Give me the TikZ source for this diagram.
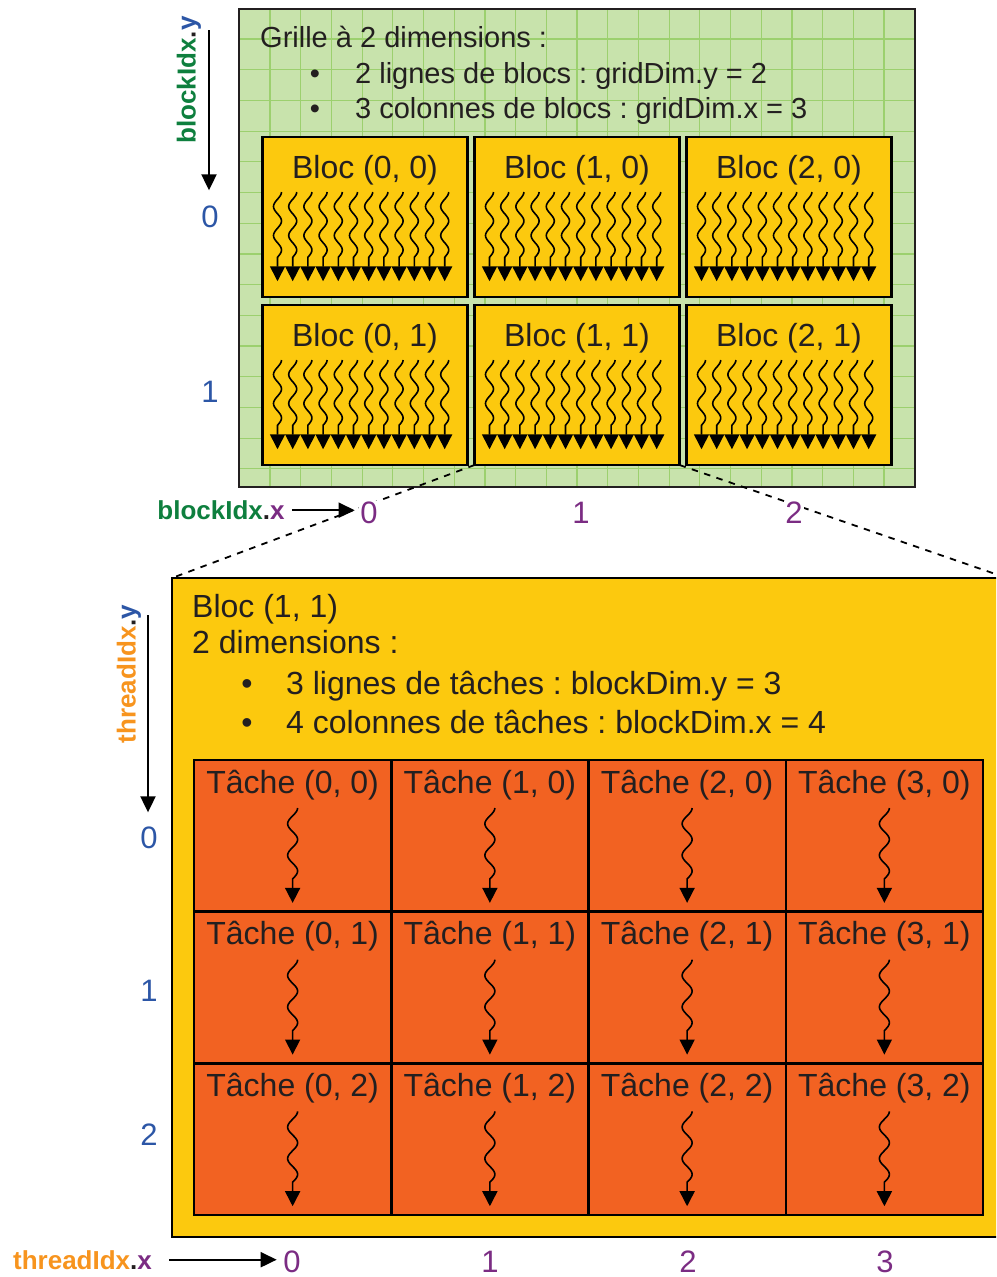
\documentclass[tikz,border=0pt]{standalone}
\usepackage{fontspec}
\setmainfont{Liberation Sans}
\usetikzlibrary{arrows.meta}
\frenchspacing

\definecolor{vertfond}{HTML}{C8E3AC}
\definecolor{vertligne}{HTML}{9CD06E}
\definecolor{jaune}{HTML}{FCC90E}
\definecolor{orangetache}{HTML}{F26222}
\definecolor{encre}{HTML}{231F20}
\definecolor{vertidx}{HTML}{0E7F3E}
\definecolor{bleuidx}{HTML}{2C56A6}
\definecolor{violetidx}{HTML}{7B2C83}
\definecolor{orangeidx}{HTML}{F7941E}

% fil d'execution : x du centre, y du haut, amplitude, periode
\newcommand{\filtache}[4]{\draw[fil] plot[domain=0:810,samples=46,variable=\t] ({#1+#3*cos(\t)},{#2+\t/360*#4}) -- ++(0,24);}

\tikzset{
  fil/.style={line width=1.6pt, -{Triangle[width=15pt,length=15pt]}},
  axe/.style={line width=2pt, -{Triangle[width=15pt,length=16pt]}},
  pointille/.style={line width=1.8pt, dash pattern=on 6.5pt off 6.5pt},
  txt/.style={text=encre, inner sep=0pt, font=\fontsize{29}{35}\selectfont},
  txtgrand/.style={text=encre, inner sep=0pt, font=\fontsize{32}{38}\selectfont},
  idx/.style={inner sep=0pt, font=\bfseries\fontsize{26}{30}\selectfont},
  num/.style={inner sep=1.5pt, fill=white, font=\fontsize{31}{36}\selectfont},
  bloc/.style={draw=black, line width=2.5pt, fill=jaune, minimum width=205, minimum height=160, anchor=north west, inner sep=0pt, outer sep=0pt},
  tache/.style={draw=black, line width=2.5pt, fill=orangetache, minimum width=197.25, minimum height=151.67, anchor=north west, inner sep=0pt, outer sep=0pt},
}

\begin{document}
\begin{tikzpicture}[x=1pt,y=-1pt] % grille de blocs et bloc de taches
\useasboundingbox (0,0) rectangle (996,1277);
\clip (0,0) rectangle (996,1277);

% grille
\node[fill=vertfond, minimum width=676, minimum height=478, anchor=north west, inner sep=0pt, outer sep=0pt] (grille) at (239,9) {};
\foreach \n in {0,...,20} \draw[vertligne, line width=1.2pt] (270+\n*30.7,9) -- ++(0,478);
\foreach \n in {0,...,14} \draw[vertligne, line width=1.2pt] (239,39+\n*30.7) -- ++(676,0);
\draw[line width=2pt, draw=encre] (grille.north west) rectangle (grille.south east);

\node[txt, anchor=base west] at (260,47) {Grille à 2 dimensions :};
\node[txt, anchor=base] at (315,83) {\textbullet};
\node[txt, anchor=base west] at (355,83) {2 lignes de blocs : gridDim.y = 2};
\node[txt, anchor=base] at (315,118.5) {\textbullet};
\node[txt, anchor=base west] at (355,118.5) {3 colonnes de blocs : gridDim.x = 3};

\foreach \i in {0,1,2}{
  \foreach \j in {0,1}{
    \node[bloc] (b\i\j) at (262.5+\i*212, 137+\j*168) {};
    \node[txtgrand, anchor=base] at ([yshift=-41pt]b\i\j.north) {Bloc (\i, \j)};
    \begin{scope}[shift={(b\i\j.north west)}]
      \foreach \k in {0,...,11} {\filtache{15+\k*15.2}{55}{4}{29}}
    \end{scope}
  }
}

% zoom sur le bloc (1, 1)
\node[fill=jaune, draw=black, line width=2pt, minimum width=835, minimum height=659, anchor=north west, inner sep=0pt, outer sep=0pt] (grandbloc) at (172,578) {};
\draw[pointille] (b11.south west) -- (grandbloc.north west);
\draw[pointille] (b11.south east) -- (grandbloc.north east);

\node[txtgrand, anchor=base west] at (192,617) {Bloc (1, 1)};
\node[txtgrand, anchor=base west] at (192,653) {2 dimensions :};
\node[txtgrand, anchor=base] at (247,694) {\textbullet};
\node[txtgrand, anchor=base west] at (286,694) {3 lignes de tâches : blockDim.y = 3};
\node[txtgrand, anchor=base] at (247,733) {\textbullet};
\node[txtgrand, anchor=base west] at (286,733) {4 colonnes de tâches : blockDim.x = 4};

\foreach \i in {0,...,3}{
  \foreach \j in {0,1,2}{
    \node[tache] (t\i\j) at (194+\i*197.25, 760+\j*151.67) {};
    \node[txtgrand, anchor=base] at ([yshift=-33pt]t\i\j.north) {Tâche (\i, \j)};
    \begin{scope}[shift={(t\i\j.north)}]
      \filtache{0}{48}{5}{31.5}
    \end{scope}
  }
}

% indices des blocs
\node[idx, rotate=90] (lby) at (189,80) {\textcolor{vertidx}{blockIdx}\textcolor{encre}{.}\textcolor{bleuidx}{y}};
\node[num, text=bleuidx, fill=none] (nby0) at (210,217) {0};
\node[num, text=bleuidx, fill=none] (nby1) at (210,392) {1};
\coordinate (hautby) at (209,30);
\draw[axe, shorten >=14pt] (hautby) -- (hautby |- nby0.north);

\node[idx, anchor=base] (lbx) at (221,519.5) {\textcolor{vertidx}{blockIdx}\textcolor{encre}{.}\textcolor{violetidx}{x}};
\foreach \i/\x in {0/369,1/581,2/794} \node[num, text=violetidx] (nbx\i) at (\x,513) {\i};
\draw[axe, shorten <=7pt, shorten >=4pt] (lbx.east) -- (lbx.east -| nbx0.west);

% indices des taches
\node[idx, rotate=90] (lty) at (129,674) {\textcolor{orangeidx}{threadIdx}\textcolor{encre}{.}\textcolor{bleuidx}{y}};
\foreach \j/\y in {0/838,1/991,2/1135} \node[num, text=bleuidx, fill=none] (nty\j) at (149,\y) {\j};
\coordinate (hautty) at (148,615);
\draw[axe, shorten >=13pt] (hautty) -- (hautty |- nty0.north);

\node[idx, anchor=base] (ltx) at (82.5,1269) {\textcolor{orangeidx}{threadIdx}\textcolor{encre}{.}\textcolor{violetidx}{x}};
\foreach \i/\x in {0/292,1/490,2/688,3/885} \node[num, text=violetidx, fill=none] (ntx\i) at (\x,1261.5) {\i};
\draw[axe, shorten <=17pt, shorten >=5pt] (ltx.east) -- (ltx.east -| ntx0.west);
\end{tikzpicture}
\end{document}
